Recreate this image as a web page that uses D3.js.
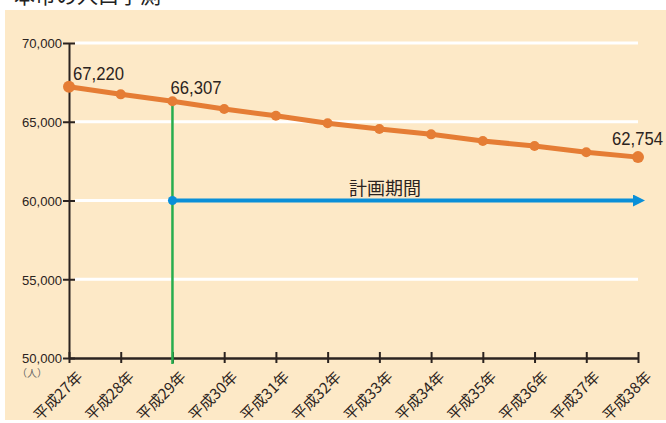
<!DOCTYPE html>
<html>
<head>
<meta charset="utf-8">
<script src="https://cdn.jsdelivr.net/npm/d3@7"></script>
<style>
  body { margin: 0; background: #fff; }
  svg { display: block; }
</style>
</head>
<body>
<div id="chart"></div>
<script>
var years = ["平成27年", "平成28年", "平成29年", "平成30年", "平成31年", "平成32年",
             "平成33年", "平成34年", "平成35年", "平成36年", "平成37年", "平成38年"];
var population = [67220, 66740, 66307, 65810, 65380, 64900, 64540, 64200, 63780, 63460, 63060, 62754];
var labelled = ["平成27年", "平成29年", "平成38年"];
var yTicks = [50000, 55000, 60000, 65000, 70000];
var planStart = "平成29年";
var planLevel = 60000;

var W = 666, H = 423;
var numFont = "'Liberation Sans', Arial, sans-serif";
var jpFont = "'Noto Sans CJK JP', sans-serif";
var ink = "#2b2320";

var svg = d3.select("#chart").append("svg")
    .attr("width", W)
    .attr("height", H);

// background panel
svg.append("rect")
    .attr("x", 5).attr("y", 10)
    .attr("width", W - 5).attr("height", 410)
    .attr("fill", "#fde9c7");

// title, cut at the top
svg.append("text")
    .attr("x", 14).attr("y", 3)
    .style("font-family", jpFont)
    .style("font-size", "21px")
    .attr("fill", "#222")
    .text("本市の人口予測");

var x = d3.scalePoint()
    .domain(years)
    .range([69, 638]);

var y = d3.scaleLinear()
    .domain([50000, 70000])
    .range([358, 43]);

// white gridlines
svg.append("g")
  .selectAll("line")
  .data(yTicks.filter(function(d) { return d > 50000; }))
  .join("line")
    .attr("x1", 75).attr("x2", 638)
    .attr("y1", function(d) { return y(d); })
    .attr("y2", function(d) { return y(d); })
    .attr("stroke", "#fff")
    .attr("stroke-width", 3);

// Y axis
var yAxis = svg.append("g")
    .attr("transform", "translate(69,0)")
    .call(d3.axisLeft(y).tickValues(yTicks).tickSizeInner(6).tickSizeOuter(0)
      .tickFormat(d3.format(",")));
yAxis.attr("font-size", null).attr("font-family", null);
yAxis.select(".domain").attr("stroke", ink).attr("stroke-width", 2);
yAxis.selectAll(".tick line").attr("stroke", ink).attr("stroke-width", 2)
    .attr("x1", 6);
yAxis.selectAll(".tick text")
    .attr("x", -7)
    .attr("dy", "0.36em")
    .style("font-family", numFont)
    .style("font-size", "13.5px")
    .attr("textLength", 40)
    .attr("lengthAdjust", "spacingAndGlyphs")
    .attr("fill", ink);

// X axis
var xAxis = svg.append("g")
    .attr("transform", "translate(0,358)")
    .call(d3.axisBottom(x).tickSizeInner(5).tickSizeOuter(0));
xAxis.attr("font-size", null).attr("font-family", null);
xAxis.select(".domain").attr("stroke", ink).attr("stroke-width", 2.5);
xAxis.selectAll(".tick line").attr("stroke", ink).attr("stroke-width", 2)
    .attr("y1", -6);
xAxis.selectAll(".tick text")
    .style("font-family", jpFont)
    .style("font-size", "15px")
    .attr("fill", ink)
    .attr("text-anchor", "end")
    .attr("dy", null)
    .attr("y", 0)
    .attr("transform", "translate(14,20) rotate(-45)");

svg.append("text")
    .attr("x", 17).attr("y", 377)
    .style("font-family", jpFont)
    .style("font-size", "10px")
    .attr("fill", "#666")
    .text("（人）");

// green start line
svg.append("line")
    .attr("x1", x(planStart)).attr("x2", x(planStart))
    .attr("y1", y(population[years.indexOf(planStart)]))
    .attr("y2", 364)
    .attr("stroke", "#27ad4e")
    .attr("stroke-width", 2.5);

// blue plan arrow
var blue = "#0a8fd8";
svg.append("defs").append("marker")
    .attr("id", "arrow")
    .attr("viewBox", "0 0 10 10")
    .attr("refX", 0).attr("refY", 5)
    .attr("markerWidth", 12).attr("markerHeight", 12)
    .attr("markerUnits", "userSpaceOnUse")
    .attr("orient", "auto")
  .append("path")
    .attr("d", "M0,0L10,5L0,10Z")
    .attr("fill", blue);

svg.append("line")
    .attr("x1", x(planStart)).attr("x2", 633)
    .attr("y1", y(planLevel)).attr("y2", y(planLevel))
    .attr("stroke", blue)
    .attr("stroke-width", 4)
    .attr("marker-end", "url(#arrow)");

svg.append("circle")
    .attr("cx", x(planStart)).attr("cy", y(planLevel))
    .attr("r", 4.5)
    .attr("fill", blue);

svg.append("text")
    .attr("x", 385).attr("y", y(planLevel) - 6)
    .attr("text-anchor", "middle")
    .style("font-family", jpFont)
    .style("font-size", "18px")
    .attr("fill", ink)
    .text("計画期間");

// population line
var orange = "#e57d35";
var data = years.map(function(d, i) { return {year: d, value: population[i]}; });

svg.append("path")
    .datum(data)
    .attr("fill", "none")
    .attr("stroke", orange)
    .attr("stroke-width", 5)
    .attr("d", d3.line()
      .x(function(d) { return x(d.year); })
      .y(function(d) { return y(d.value); }));

svg.append("g")
  .selectAll("circle")
  .data(data)
  .join("circle")
    .attr("cx", function(d) { return x(d.year); })
    .attr("cy", function(d) { return y(d.value); })
    .attr("r", function(d, i) { return (i == 0 || i == data.length - 1) ? 6 : 5; })
    .attr("fill", orange);

var labelDx = [4, -2, -26];
var labelDy = [-7, -7, -12];
svg.append("g")
  .selectAll("text")
  .data(data.filter(function(d) { return labelled.indexOf(d.year) >= 0; }))
  .join("text")
    .attr("x", function(d, i) { return x(d.year) + labelDx[i]; })
    .attr("y", function(d, i) { return y(d.value) + labelDy[i]; })
    .style("font-family", numFont)
    .style("font-size", "18px")
    .attr("textLength", 51)
    .attr("lengthAdjust", "spacingAndGlyphs")
    .attr("fill", ink)
    .text(function(d) { return d3.format(",")(d.value); });
</script>
</body>
</html>
